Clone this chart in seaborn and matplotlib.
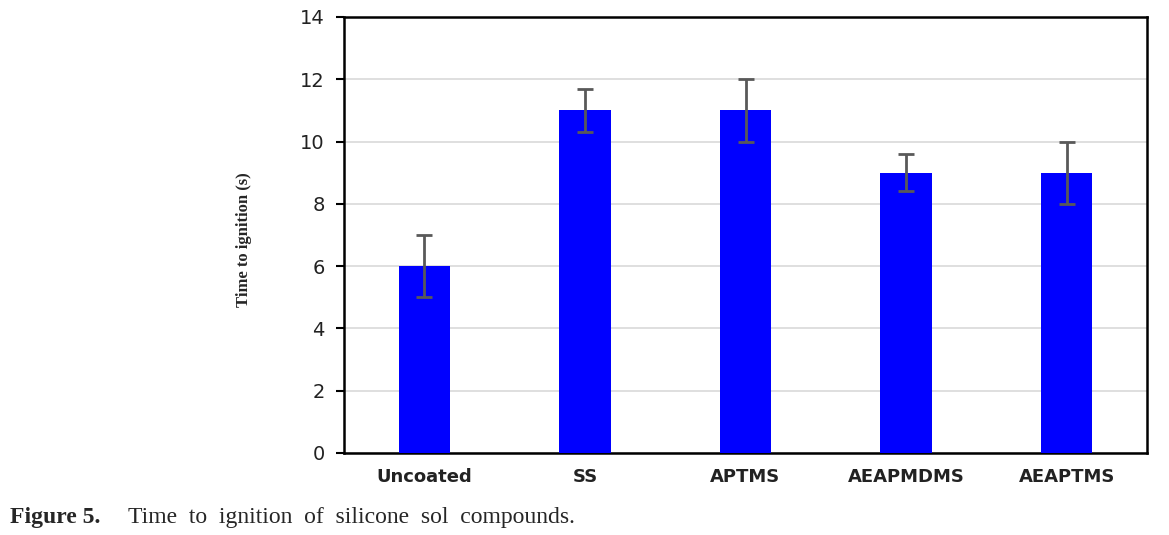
import matplotlib
matplotlib.use("Agg")
import matplotlib.pyplot as plt
import seaborn as sns
import pandas as pd

categories = ["Uncoated", "SS", "APTMS", "AEAPMDMS", "AEAPTMS"]
values = [6, 11, 11, 9, 9]
errors = [1.0, 0.7, 1.0, 0.6, 1.0]
yticks = [0, 2, 4, 6, 8, 10, 12, 14]

sns.set_style("white")
plt.rcParams['font.family'] = ['DejaVu Sans']

fig = plt.figure(figsize=(11.69, 5.35), dpi=100)
ax = fig.add_axes([344/1169, 82/535, (1147-344)/1169, (453-17)/535])

df = pd.DataFrame({"cat": categories, "val": values})
sns.barplot(data=df, x="cat", y="val", color="#0000ff", saturation=1, width=0.32,
            errorbar=None, ax=ax, zorder=3, linewidth=0)
ax.errorbar(range(len(categories)), values, yerr=errors, fmt="none",
            ecolor="#595959", elinewidth=2, capsize=6, capthick=2, zorder=4)

ax.set_xlim(-0.5, len(categories) - 0.5)
ax.set_ylim(0, 14)
ax.set_yticks(yticks)
ax.set_yticklabels([str(t) for t in yticks], fontsize=14, color="#222222")
ax.set_xticks(range(len(categories)))
ax.set_xticklabels(categories, fontsize=13, fontweight="bold", color="#222222")
ax.tick_params(axis="x", length=0, pad=11)
ax.tick_params(axis="y", length=6, width=1.5, color="black", direction="out", left=True, pad=8)
ax.yaxis.grid(True, color="#d9d9d9", linewidth=1.2, zorder=0)
ax.set_axisbelow(True)
for s in ax.spines.values():
    s.set_visible(True)
    s.set_color("black")
    s.set_linewidth(1.8)
ax.set_xlabel("")
ax.set_ylabel("")

fig.text(244/1169, (535-240)/535, "Time to ignition (s)", rotation=90, ha="center", va="center",
         fontsize=12, fontweight="bold", family="Liberation Serif")

fig.text(10/1169, (535-518)/535, "Figure 5.", ha="left", va="center",
         fontsize=17, fontweight="bold", family="Liberation Serif")
fig.text(128/1169, (535-518)/535, "Time  to  ignition  of  silicone  sol  compounds.", ha="left", va="center",
         fontsize=17, family="Liberation Serif")

fig.savefig("out.png", dpi=100)
